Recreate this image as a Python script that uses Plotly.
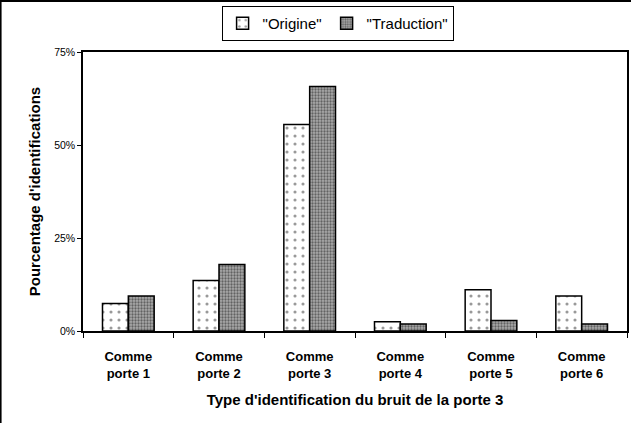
import plotly.graph_objects as go

categories = ["Comme<br>porte 1", "Comme<br>porte 2", "Comme<br>porte 3",
              "Comme<br>porte 4", "Comme<br>porte 5", "Comme<br>porte 6"]
origine = [7.4, 13.6, 55.5, 2.5, 11.1, 9.4]
traduction = [9.4, 17.9, 65.7, 1.9, 2.8, 1.9]
y_tick_vals = [0, 25, 50, 75]
y_tick_text = ["0%", "25%", "50%", "75%"]

FONT = "Liberation Sans, Arial, sans-serif"

fig = go.Figure()
fig.add_trace(go.Bar(
    x=categories, y=origine, name='"Origine"',
    marker=dict(color="white", line=dict(color="black", width=1.5),
                pattern=dict(shape=".", size=8, solidity=0.12,
                             fgcolor="#333333", bgcolor="white")),
))
fig.add_trace(go.Bar(
    x=categories, y=traduction, name='"Traduction"',
    marker=dict(color="#808080", line=dict(color="black", width=1.5),
                pattern=dict(shape=".", size=3, solidity=0.45,
                             fgcolor="#1a1a1a", bgcolor="#aaaaaa")),
))

fig.update_layout(
    width=631, height=423,
    margin=dict(l=83, r=4, t=52, b=92, autoexpand=False),
    paper_bgcolor="white", plot_bgcolor="white",
    barmode="group", bargap=0.43, bargroupgap=0,
    font=dict(family=FONT, color="black", size=11),
    showlegend=True,
    legend=dict(orientation="h", x=0.468, xanchor="center", y=1.102, yanchor="middle",
                bordercolor="black", borderwidth=1, bgcolor="white",
                font=dict(size=15, family=FONT), itemwidth=30,
                traceorder="normal"),
    xaxis=dict(showline=True, linecolor="black", linewidth=1.5, mirror=True,
               ticks="outside", tickson="boundaries", ticklen=5, tickcolor="black",
               ticklabelstandoff=13,
               tickfont=dict(size=13, family=FONT, weight="bold"),
               title=dict(text="Type d'identification du bruit de la porte 3",
                          font=dict(size=15, family=FONT, weight="bold"), standoff=14),
               showgrid=False),
    yaxis=dict(range=[0, 75], tickvals=y_tick_vals, ticktext=y_tick_text,
               showline=True, linecolor="black", linewidth=1.5, mirror=True,
               ticks="outside", ticklen=4, tickcolor="black",
               tickfont=dict(size=10.5, family=FONT),
               title=dict(text="Pourcentage d'identifications",
                          font=dict(size=15, family=FONT, weight="bold"), standoff=10),
               showgrid=False, zeroline=False),
    shapes=[
        dict(type="line", xref="paper", yref="paper", x0=-0.153, x1=1.01,
             y0=1.183, y1=1.183, line=dict(color="black", width=2)),
        dict(type="line", xref="paper", yref="paper", x0=-0.1515, x1=-0.1515,
             y0=1.183, y1=-0.33, line=dict(color="black", width=2)),
    ],
)

fig.write_html("out.html", config={"displayModeBar": False},
               post_script="document.body.style.margin='0';document.body.style.padding='0';")
